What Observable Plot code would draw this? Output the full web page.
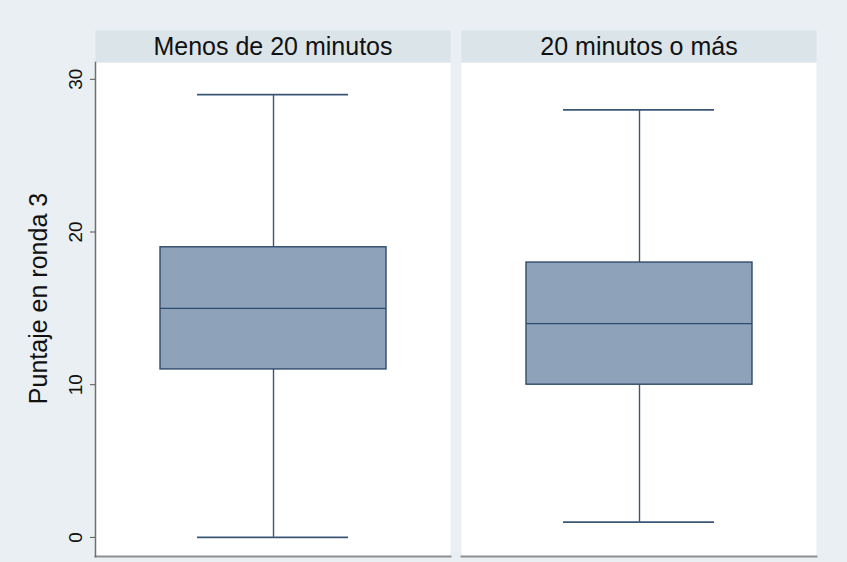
<!DOCTYPE html>
<html>
<head>
<meta charset="utf-8">
<script src="https://cdn.jsdelivr.net/npm/d3@7"></script>
<script src="https://cdn.jsdelivr.net/npm/@observablehq/plot@0.6"></script>
<style>
  html, body { margin: 0; padding: 0; background: #e9eff2; }
  #chart { width: 847px; height: 562px; background: #e9eff2; }
  svg { display: block; }
</style>
</head>
<body>
<div id="chart"></div>
<script>
// Data
const groups  = ["Menos de 20 minutos", "20 minutos o más"];
const mins    = [0, 1];
const q1s     = [11, 10];
const medians = [15, 14];
const q3s     = [19, 18];
const maxs    = [29, 28];
const yTicks  = [0, 10, 20, 30];
const yLabel  = "Puntaje en ronda 3";

const data = groups.map((g, i) => ({
  g, min: mins[i], q1: q1s[i], median: medians[i], q3: q3s[i], max: maxs[i]
}));
const tickData = yTicks.map(v => ({v, g: groups[0]}));

const W = 847, H = 562;
const mTop = 62, mBottom = 6, mLeft = 95, mRight = 30;
const headerH = 32;
const frameH = H - mTop - mBottom;

const boxFill = "#8ea2b9";
const boxStroke = "#2f4b6b";
const whiskerStroke = "#3a5677";
const font = "'Liberation Sans', Arial, sans-serif";

const chart = Plot.plot({
  width: W,
  height: H,
  marginTop: mTop,
  marginBottom: mBottom,
  marginLeft: mLeft,
  marginRight: mRight,
  style: { background: "transparent", fontFamily: font, color: "#111" },
  fx: { domain: groups, padding: 0.03, axis: null },
  x: { type: "band", domain: ["box"], padding: 0.222, axis: null },
  y: { domain: [-1.25, 31.1], axis: null },
  marks: [
    Plot.frame({ fill: "white" }),
    Plot.frame({ fill: "#dae4e9", insetTop: -headerH, insetBottom: frameH }),
    Plot.text(groups, { fx: d => d, text: d => d, frameAnchor: "top", dy: -16, lineAnchor: "middle", fontSize: 25, fill: "#111" }),
    Plot.frame({ anchor: "bottom", stroke: "#8f8f8f", strokeWidth: 2 }),
    Plot.frame({ anchor: "left", stroke: "#6f6f6f", strokeWidth: 1.5, facetAnchor: "left" }),
    Plot.ruleX(data, { fx: "g", x: () => "box", y1: "q3", y2: "max", stroke: whiskerStroke, strokeWidth: 1.4 }),
    Plot.ruleX(data, { fx: "g", x: () => "box", y1: "min", y2: "q1", stroke: whiskerStroke, strokeWidth: 1.4 }),
    Plot.barY(data, { fx: "g", x: () => "box", y1: "q1", y2: "q3", fill: boxFill, stroke: boxStroke, strokeWidth: 1.4 }),
    Plot.tickY(data, { fx: "g", x: () => "box", y: "median", stroke: boxStroke, strokeWidth: 1.4 }),
    Plot.tickY(data, { fx: "g", x: () => "box", y: "min", stroke: whiskerStroke, strokeWidth: 1.7, insetLeft: 37, insetRight: 38 }),
    Plot.tickY(data, { fx: "g", x: () => "box", y: "max", stroke: whiskerStroke, strokeWidth: 1.7, insetLeft: 37, insetRight: 38 }),
    Plot.axisY({ ticks: yTicks, tickSize: 5, tickFormat: () => "", stroke: "#555", label: null }),
    Plot.text(tickData, { fx: "g", y: "v", text: d => String(d.v), frameAnchor: "left", dx: -20, rotate: -90, textAnchor: "middle", lineAnchor: "middle", fontSize: 19, fill: "#111" }),
    Plot.text(tickData.slice(0, 1), { fx: "g", text: () => yLabel, frameAnchor: "left", dx: -57, dy: -11, rotate: -90, textAnchor: "middle", lineAnchor: "middle", fontSize: 25, fill: "#111" })
  ]
});

document.getElementById("chart").appendChild(chart);
</script>
</body>
</html>
